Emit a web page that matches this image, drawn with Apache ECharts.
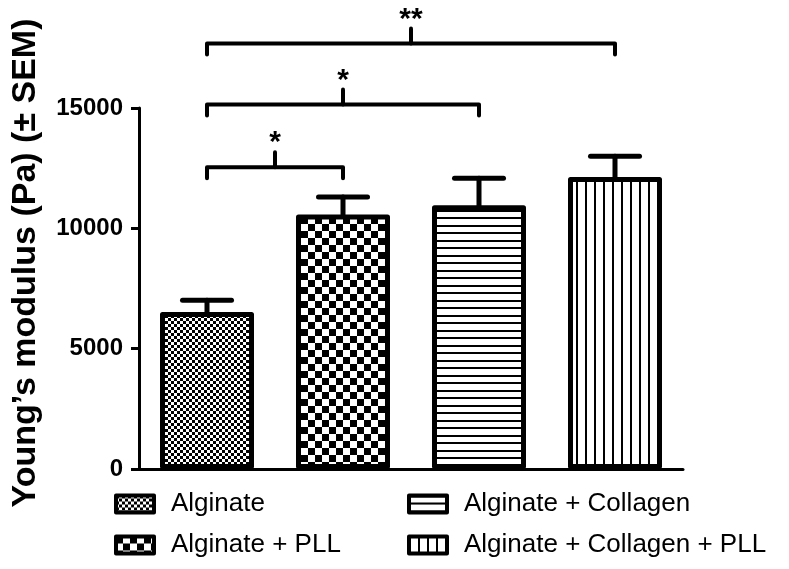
<!DOCTYPE html>
<html><head><meta charset="utf-8">
<script src="https://cdn.jsdelivr.net/npm/echarts@6/dist/echarts.min.js"></script>
<style>html,body{margin:0;padding:0;background:#fff}#c{width:789px;height:569px}</style>
</head><body><div id="c"></div>
<script>
const categories = ['Alginate', 'Alginate + PLL', 'Alginate + Collagen', 'Alginate + Collagen + PLL'];
const means = [6520, 10570, 10960, 12130];
const sems = [490, 730, 1120, 870];
const yTickValues = [0, 5000, 10000, 15000];
const bracketPairs = [[0, 1], [0, 2], [0, 3]];
const bracketLevels = [12540, 15150, 17680];
const bracketLabels = ['*', '*', '**'];
const yTitle = 'Young\u2019s modulus (Pa) (\u00b1 SEM)';

const FONT = '"Liberation Sans", Arial, sans-serif';

function makePattern(kind) {
  const c = document.createElement('canvas');
  const ctx = c.getContext('2d');
  if (kind === 0) {
    c.width = 6; c.height = 6;
    ctx.fillStyle = '#fff'; ctx.fillRect(0, 0, 6, 6);
    ctx.fillStyle = '#000'; ctx.fillRect(0, 0, 3, 3); ctx.fillRect(3, 3, 3, 3);
  } else if (kind === 1) {
    c.width = 14; c.height = 14;
    ctx.fillStyle = '#fff'; ctx.fillRect(0, 0, 14, 14);
    ctx.fillStyle = '#000'; ctx.fillRect(0, 0, 7, 7); ctx.fillRect(7, 7, 7, 7);
  } else if (kind === 2) {
    c.width = 4; c.height = 15;
    ctx.fillStyle = '#fff'; ctx.fillRect(0, 0, 4, 15);
    ctx.fillStyle = '#000'; ctx.fillRect(0, 0, 4, 2); ctx.fillRect(0, 7, 4, 2);
  } else {
    c.width = 9; c.height = 4;
    ctx.fillStyle = '#fff'; ctx.fillRect(0, 0, 9, 4);
    ctx.fillStyle = '#000'; ctx.fillRect(0, 0, 2, 4);
  }
  return { image: c, repeat: 'repeat' };
}

const chart = echarts.init(document.getElementById('c'), null, { renderer: 'canvas' });

const barSeries = categories.map((name, i) => ({
  name: name,
  type: 'bar',
  barWidth: 94,
  barGap: '-100%',
  data: categories.map((c, j) => (j === i ? means[j] : '-')),
  itemStyle: {
    color: makePattern(i),
    borderColor: '#000',
    borderWidth: 5,
    borderJoin: 'round'
  },
  emphasis: { disabled: true },
  z: 2
}));

const errorSeries = {
  type: 'custom',
  name: 'SEM',
  clip: false,
  z: 5,
  data: categories.map((c, i) => [i, means[i], means[i] + sems[i]]),
  encode: { x: 0, y: [1, 2] },
  renderItem: function (params, api) {
    const p0 = api.coord([api.value(0), api.value(1)]);
    const p1 = api.coord([api.value(0), api.value(2)]);
    const half = 24.5;
    const st = { stroke: '#000', lineWidth: 5, lineCap: 'round' };
    return {
      type: 'group',
      children: [
        { type: 'line', shape: { x1: p0[0], y1: p0[1] + 2, x2: p1[0], y2: p1[1] }, style: st },
        { type: 'line', shape: { x1: p1[0] - half, y1: p1[1], x2: p1[0] + half, y2: p1[1] }, style: st }
      ]
    };
  }
};

const bracketSeries = {
  type: 'custom',
  name: 'brackets',
  clip: false,
  z: 6,
  data: bracketPairs.map((p, i) => [p[0], p[1], bracketLevels[i], i]),
  encode: { x: [0, 1], y: 2 },
  renderItem: function (params, api) {
    const a = api.coord([api.value(0), api.value(2)]);
    const b = api.coord([api.value(1), api.value(2)]);
    const y = a[1];
    const mid = (a[0] + b[0]) / 2;
    const st = { stroke: '#000', lineWidth: 4, lineJoin: 'round', lineCap: 'round', fill: null };
    return {
      type: 'group',
      children: [
        { type: 'polyline', shape: { points: [[a[0], y + 11], [a[0], y], [b[0], y], [b[0], y + 11]] }, style: st },
        { type: 'line', shape: { x1: mid, y1: y, x2: mid, y2: y - 15 }, style: { stroke: '#000', lineWidth: 4, lineCap: 'round' } },
        { type: 'text', x: mid, y: y - 24, style: { text: bracketLabels[api.value(3)], fill: '#000', font: 'bold 30px ' + FONT, align: 'center', verticalAlign: 'middle' } }
      ]
    };
  }
};

const legendCommon = {
  orient: 'vertical',
  padding: 0,
  itemWidth: 38,
  itemHeight: 17,
  itemGap: 15,
  icon: 'rect',
  selectedMode: false,
  itemStyle: { borderColor: '#000', borderWidth: 4 },
  textStyle: { color: '#000', fontSize: 26, fontFamily: FONT, padding: [0, 0, 0, 12] }
};

chart.setOption({
  animation: false,
  backgroundColor: '#fff',
  grid: { left: 139, right: 106, top: 108, bottom: 100 },
  xAxis: {
    type: 'category',
    data: categories,
    axisLine: { lineStyle: { color: '#000', width: 3 } },
    axisTick: { show: false },
    axisLabel: { show: false },
    splitLine: { show: false }
  },
  yAxis: {
    type: 'value',
    min: yTickValues[0],
    max: yTickValues[yTickValues.length - 1],
    interval: 5000,
    axisLine: { show: true, lineStyle: { color: '#000', width: 3 } },
    axisTick: { show: true, length: 8, lineStyle: { color: '#000', width: 3 } },
    axisLabel: { color: '#000', fontSize: 24, fontWeight: 'bold', fontFamily: FONT, margin: 16,
      formatter: function (v) { return String(v); } },
    splitLine: { show: false }
  },
  legend: [
    Object.assign({}, legendCommon, { left: 114, top: 491, data: [categories[0], categories[1]] }),
    Object.assign({}, legendCommon, { left: 407, top: 491, data: [categories[2], categories[3]] })
  ],
  graphic: [{
    type: 'text',
    x: 26, y: 263,
    rotation: Math.PI / 2,
    style: { text: yTitle, fill: '#000', font: 'bold 34px ' + FONT, align: 'center', verticalAlign: 'middle' }
  }],
  series: barSeries.concat([errorSeries, bracketSeries])
});
</script>
</body></html>
